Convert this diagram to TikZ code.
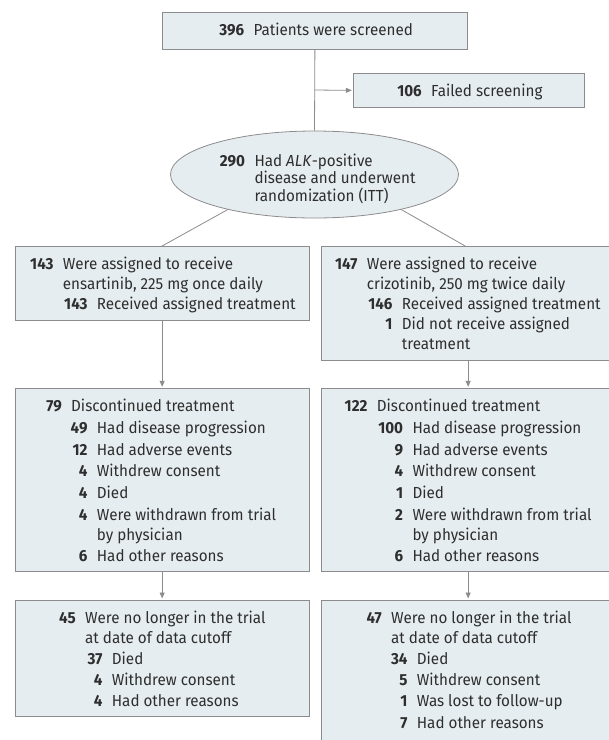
\documentclass[tikz,border=0pt]{standalone}
\usepackage{fontspec}
\setmainfont[FakeStretch=0.95]{Fira Sans}
\usetikzlibrary{shapes.geometric,arrows.meta}
\definecolor{boxfill}{HTML}{E6EDF1}
\definecolor{boxline}{HTML}{8C8C8C}
\definecolor{txt}{HTML}{2E2E2E}
\newcounter{lnno}
\newcommand\fl[4]{\stepcounter{lnno}%
  \node[numtxt] (n\thelnno) at (#1-9,#2) {#3};%
  \node[bodytxt] (t\thelnno) at (#1,#2) {#4};}
\newcommand\wl[3]{\stepcounter{lnno}%
  \node[bodytxt] (w\thelnno) at (#1,#2) {#3};}
\tikzset{
  fnt/.style={font=\fontsize{16}{19}\selectfont},
  numtxt/.style={fnt, anchor=base east, inner sep=0pt, text=txt, font=\fontsize{16}{19}\selectfont\bfseries},
  bodytxt/.style={fnt, anchor=base west, inner sep=0pt, text=txt},
  box/.style={draw=boxline, fill=boxfill, line width=0.8pt, inner sep=0pt, anchor=north west},
  conn/.style={draw=boxline, line width=0.8pt},
  arr/.style={conn, -{Triangle[length=6pt,width=5pt]}, shorten >=1.5pt},
}
\begin{document}
\begin{tikzpicture}[x=1pt, y=-1pt]
\useasboundingbox (0,0) rectangle (609,740);
% boxes
\node[box, minimum width=305pt, minimum height=37pt] (top) at (162,12) {};
\node[box, minimum width=231pt, minimum height=33.4pt] (fail) at (353.3,73.3) {};
\node[ellipse, draw=boxline, fill=boxfill, line width=0.8pt, inner sep=0pt,
      minimum width=288pt, minimum height=87pt] (ell) at (314.5,174.5) {};
\node[box, minimum width=293.5pt, minimum height=74pt] (lb1) at (15,246) {};
\node[box, minimum width=287.5pt, minimum height=113.5pt] (rb1) at (321,246) {};
\node[box, minimum width=293.5pt, minimum height=182.7pt] (lb2) at (15,388.3) {};
\node[box, minimum width=287.5pt, minimum height=182.7pt] (rb2) at (321,388.3) {};
\node[box, minimum width=293.5pt, minimum height=116pt] (lb3) at (15,600) {};
\node[box, minimum width=287.5pt, minimum height=139.5pt] (rb3) at (321,600) {};
% connectors
\coordinate (br) at (314.5,90);
\draw[conn] (top.south) -- (ell.north);
\draw[arr] (br) -- (fail.west);
\draw[conn] (ell.202) -- (lb1.north);
\draw[conn] (ell.-22) -- (rb1.north);
\draw[arr] (lb1.south) -- (lb2.north);
\draw[arr] ([xshift=3pt]rb1.south) -- ([xshift=3pt]rb2.north);
\draw[arr] (lb2.south) -- (lb3.north);
\draw[arr] ([xshift=3pt]rb2.south) -- ([xshift=3pt]rb3.north);
% texts
\fl{253.3}{35}{396}{Patients were screened}
\fl{431}{96}{106}{Failed screening}
\fl{254.3}{166}{290}{Had \textit{ALK}-positive}
\wl{254.3}{183.8}{disease and underwent}
\wl{254.3}{201.6}{randomization (ITT)}
% left box 1
\fl{62.7}{269.3}{143}{Were assigned to receive}
\wl{62.7}{289.3}{ensartinib, 225 mg once daily}
\fl{96.7}{309.3}{143}{Received assigned treatment}
% right box 1
\fl{366.7}{269.3}{147}{Were assigned to receive}
\wl{366.7}{289.3}{crizotinib, 250 mg twice daily}
\fl{401.7}{309.3}{146}{Received assigned treatment}
\fl{401.7}{329.3}{1}{Did not receive assigned}
\wl{401.7}{349.3}{treatment}
% left box 2
\fl{71}{411.7}{79}{Discontinued treatment}
\fl{96.7}{433.3}{49}{Had disease progression}
\fl{96.7}{455}{12}{Had adverse events}
\fl{96.7}{476.7}{4}{Withdrew consent}
\fl{96.7}{498.3}{4}{Died}
\fl{96.7}{520}{4}{Were withdrawn from trial}
\wl{96.7}{540}{by physician}
\fl{96.7}{561.7}{6}{Had other reasons}
% right box 2
\fl{376.7}{411.7}{122}{Discontinued treatment}
\fl{412.3}{433.3}{100}{Had disease progression}
\fl{412.3}{455}{9}{Had adverse events}
\fl{412.3}{476.7}{4}{Withdrew consent}
\fl{412.3}{498.3}{1}{Died}
\fl{412.3}{520}{2}{Were withdrawn from trial}
\wl{412.3}{540}{by physician}
\fl{412.3}{561.7}{6}{Had other reasons}
% left box 3
\fl{85}{623.3}{45}{Were no longer in the trial}
\wl{85}{643.3}{at date of data cutoff}
\fl{111.7}{664}{37}{Died}
\fl{111.7}{685.3}{4}{Withdrew consent}
\fl{111.7}{706.7}{4}{Had other reasons}
% right box 3
\fl{391}{623.3}{47}{Were no longer in the trial}
\wl{391}{643.3}{at date of data cutoff}
\fl{416.7}{664}{34}{Died}
\fl{416.7}{685.3}{5}{Withdrew consent}
\fl{416.7}{706.7}{1}{Was lost to follow-up}
\fl{416.7}{728}{7}{Had other reasons}
\end{tikzpicture}
\end{document}
